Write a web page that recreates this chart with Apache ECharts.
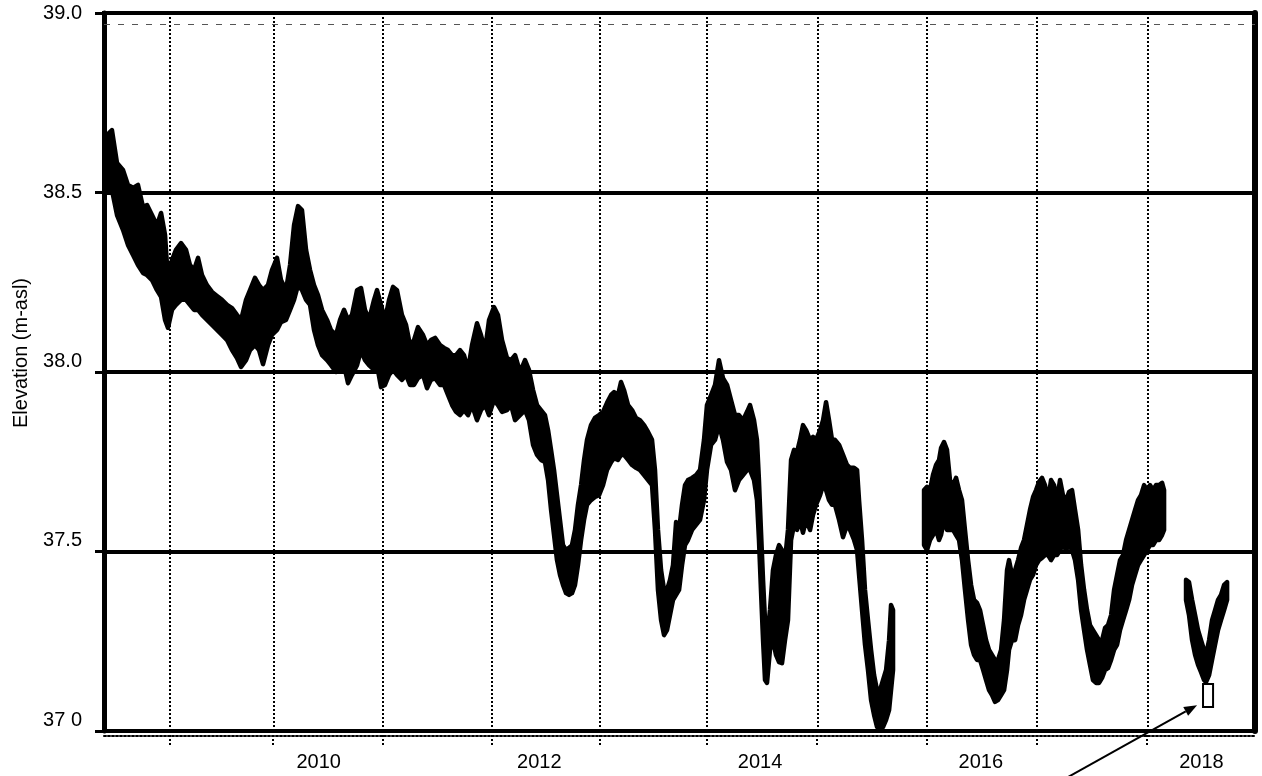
<!DOCTYPE html>
<html>
<head>
<meta charset="utf-8">
<script src="https://cdn.jsdelivr.net/npm/echarts@6/dist/echarts.min.js"></script>
<style>html,body{margin:0;padding:0;background:#fff}#c{width:1262px;height:776px}</style>
</head>
<body>
<div id="c"></div>
<script>
// Water level record: rows are [decimal year, upper envelope (m-asl), lower envelope (m-asl)]
const record2008to2015 = [
[2008.073,38.632,38.521],[2008.082,38.660,38.507],[2008.127,38.674,38.507],[2008.173,38.582,38.437],
[2008.227,38.563,38.396],[2008.272,38.521,38.354],[2008.318,38.513,38.326],[2008.363,38.521,38.298],
[2008.408,38.460,38.276],[2008.445,38.465,38.270],[2008.490,38.437,38.256],[2008.535,38.409,38.228],
[2008.572,38.443,38.209],[2008.608,38.382,38.145],[2008.635,38.256,38.123],[2008.671,38.312,38.173],
[2008.707,38.340,38.187],[2008.753,38.359,38.201],[2008.798,38.340,38.201],[2008.834,38.298,38.187],
[2008.871,38.284,38.173],[2008.907,38.318,38.173],[2008.943,38.270,38.159],[2008.988,38.242,38.145],
[2009.034,38.223,38.131],[2009.079,38.212,38.117],[2009.124,38.201,38.103],[2009.170,38.187,38.089],
[2009.215,38.178,38.061],[2009.260,38.159,38.039],[2009.297,38.145,38.014],[2009.342,38.201,38.033],
[2009.378,38.228,38.061],[2009.423,38.262,38.075],[2009.460,38.242,38.061],[2009.496,38.228,38.022],
[2009.541,38.242,38.075],[2009.577,38.284,38.103],[2009.623,38.318,38.117],[2009.659,38.256,38.139],
[2009.704,38.228,38.145],[2009.741,38.298,38.173],[2009.777,38.409,38.201],[2009.813,38.462,38.242],
[2009.849,38.451,38.228],[2009.886,38.340,38.201],[2009.922,38.284,38.187],[2009.958,38.242,38.117],
[2009.994,38.214,38.075],[2010.031,38.173,38.047],[2010.076,38.145,38.033],[2010.112,38.117,38.019],
[2010.157,38.103,38.000],[2010.194,38.145,38.006],[2010.230,38.173,38.019],[2010.266,38.145,37.969],
[2010.302,38.159,37.992],[2010.348,38.228,38.019],[2010.384,38.234,38.061],[2010.420,38.173,38.033],
[2010.456,38.145,38.019],[2010.502,38.201,38.006],[2010.529,38.228,38.019],[2010.565,38.187,37.958],
[2010.601,38.145,37.964],[2010.638,38.201,37.992],[2010.674,38.237,38.006],[2010.710,38.228,37.992],
[2010.755,38.159,37.978],[2010.792,38.131,37.992],[2010.828,38.075,37.964],[2010.864,38.089,37.964],
[2010.900,38.125,37.983],[2010.946,38.103,37.992],[2010.982,38.075,37.955],[2011.018,38.089,37.978],
[2011.055,38.095,37.983],[2011.100,38.075,37.964],[2011.136,38.067,37.964],[2011.172,38.061,37.936],
[2011.209,38.047,37.908],[2011.245,38.047,37.889],[2011.281,38.061,37.880],[2011.317,38.047,37.894],
[2011.354,38.006,37.880],[2011.390,38.075,37.908],[2011.435,38.136,37.866],[2011.471,38.103,37.894],
[2011.508,38.061,37.908],[2011.544,38.145,37.880],[2011.589,38.181,37.922],[2011.625,38.159,37.908],
[2011.662,38.089,37.889],[2011.707,38.039,37.894],[2011.743,38.033,37.908],[2011.780,38.047,37.866],
[2011.825,38.000,37.880],[2011.870,38.033,37.894],[2011.906,38.006,37.866],[2011.943,37.950,37.797],
[2011.979,37.908,37.769],[2012.015,37.894,37.755],[2012.051,37.880,37.749],[2012.079,37.838,37.699],
[2012.106,37.783,37.616],[2012.133,37.727,37.546],[2012.160,37.657,37.476],[2012.187,37.588,37.435],
[2012.214,37.518,37.407],[2012.242,37.504,37.384],[2012.269,37.510,37.379],[2012.296,37.518,37.384],
[2012.323,37.560,37.407],[2012.350,37.630,37.462],[2012.378,37.685,37.532],[2012.405,37.755,37.588],
[2012.432,37.811,37.630],[2012.468,37.852,37.643],[2012.504,37.872,37.652],[2012.541,37.880,37.657],
[2012.577,37.889,37.685],[2012.613,37.914,37.727],[2012.650,37.936,37.749],[2012.677,37.944,37.760],
[2012.713,37.936,37.755],[2012.740,37.972,37.769],[2012.767,37.950,37.769],[2012.804,37.908,37.755],
[2012.840,37.894,37.741],[2012.876,37.872,37.733],[2012.912,37.866,37.727],[2012.949,37.852,37.713],
[2012.985,37.833,37.699],[2013.021,37.811,37.685],[2013.048,37.727,37.560],[2013.075,37.560,37.393],
[2013.103,37.448,37.309],[2013.130,37.393,37.267],[2013.157,37.393,37.281],[2013.184,37.421,37.323],
[2013.211,37.462,37.365],[2013.239,37.582,37.379],[2013.266,37.560,37.393],[2013.293,37.630,37.462],
[2013.320,37.685,37.518],[2013.347,37.699,37.532],[2013.384,37.705,37.560],[2013.420,37.713,37.574],
[2013.456,37.727,37.588],[2013.492,37.811,37.643],[2013.519,37.908,37.727],[2013.556,37.936,37.797],
[2013.592,37.964,37.811],[2013.628,38.033,37.852],[2013.664,37.983,37.811],[2013.701,37.964,37.749],
[2013.737,37.922,37.727],[2013.773,37.880,37.671],[2013.809,37.880,37.699],[2013.846,37.866,37.713],
[2013.882,37.889,37.727],[2013.909,37.908,37.727],[2013.945,37.866,37.699],[2013.972,37.811,37.643],
[2013.990,37.699,37.532],[2014.008,37.560,37.393],[2014.027,37.421,37.253],[2014.045,37.309,37.142],
[2014.063,37.253,37.134],[2014.090,37.337,37.226],[2014.117,37.448,37.253],[2014.144,37.490,37.212],
[2014.172,37.518,37.192],[2014.199,37.504,37.189],[2014.226,37.476,37.253],[2014.253,37.560,37.309],
[2014.281,37.755,37.532],[2014.308,37.783,37.574],[2014.335,37.777,37.560],[2014.362,37.811,37.588],
[2014.389,37.852,37.552],[2014.417,37.838,37.588],[2014.453,37.811,37.560],[2014.480,37.819,37.602],
[2014.507,37.811,37.630],[2014.544,37.838,37.657],[2014.571,37.866,37.685],[2014.598,37.916,37.671],
[2014.625,37.866,37.643],[2014.652,37.811,37.630],[2014.679,37.811,37.630],[2014.716,37.797,37.588],
[2014.752,37.769,37.540],[2014.788,37.741,37.574],[2014.815,37.733,37.560],[2014.852,37.733,37.532],
[2014.879,37.727,37.504],[2014.897,37.643,37.435],[2014.924,37.532,37.337],[2014.951,37.393,37.240],
[2014.978,37.309,37.170],[2015.006,37.226,37.086],[2015.033,37.156,37.045],[2015.060,37.114,37.011],
[2015.087,37.114,37.008],[2015.114,37.142,37.011],[2015.142,37.170,37.031],[2015.169,37.253,37.058],
[2015.187,37.351,37.114],[2015.205,37.337,37.170]
];
const record2015to2017 = [
[2015.486,37.671,37.518],[2015.513,37.680,37.504],[2015.540,37.671,37.532],[2015.567,37.713,37.546],
[2015.595,37.741,37.560],[2015.622,37.755,37.532],[2015.640,37.788,37.546],[2015.667,37.805,37.588],
[2015.694,37.783,37.560],[2015.721,37.699,37.560],[2015.749,37.685,37.560],[2015.776,37.705,37.546],
[2015.803,37.671,37.532],[2015.830,37.643,37.476],[2015.857,37.560,37.393],[2015.885,37.476,37.309],
[2015.912,37.407,37.240],[2015.939,37.365,37.212],[2015.966,37.357,37.198],[2015.993,37.337,37.198],
[2016.021,37.295,37.170],[2016.048,37.253,37.142],[2016.075,37.226,37.114],[2016.102,37.212,37.100],
[2016.129,37.198,37.081],[2016.156,37.198,37.086],[2016.184,37.226,37.100],[2016.211,37.309,37.114],
[2016.238,37.448,37.170],[2016.256,37.476,37.226],[2016.283,37.435,37.253],[2016.311,37.448,37.253],
[2016.338,37.476,37.295],[2016.365,37.510,37.323],[2016.392,37.532,37.365],[2016.419,37.574,37.393],
[2016.446,37.616,37.421],[2016.474,37.652,37.435],[2016.501,37.671,37.462],[2016.528,37.694,37.476],
[2016.555,37.705,37.482],[2016.582,37.685,37.490],[2016.610,37.643,37.490],[2016.637,37.699,37.476],
[2016.664,37.685,37.490],[2016.691,37.643,37.490],[2016.718,37.699,37.504],[2016.745,37.657,37.518],
[2016.773,37.643,37.504],[2016.800,37.666,37.518],[2016.827,37.671,37.504],[2016.854,37.616,37.476],
[2016.882,37.560,37.421],[2016.909,37.462,37.337],[2016.936,37.393,37.281],[2016.963,37.337,37.226],
[2016.990,37.295,37.184],[2017.017,37.281,37.142],[2017.045,37.267,37.134],[2017.072,37.253,37.134],
[2017.099,37.253,37.148],[2017.126,37.287,37.170],[2017.153,37.295,37.175],[2017.181,37.323,37.198],
[2017.208,37.393,37.226],[2017.235,37.435,37.240],[2017.262,37.476,37.281],[2017.289,37.490,37.309],
[2017.317,37.532,37.337],[2017.344,37.560,37.365],[2017.371,37.588,37.407],[2017.398,37.616,37.435],
[2017.425,37.643,37.462],[2017.452,37.657,37.476],[2017.480,37.685,37.490],[2017.507,37.671,37.504],
[2017.534,37.685,37.518],[2017.561,37.671,37.518],[2017.588,37.685,37.532],[2017.616,37.685,37.532],
[2017.643,37.691,37.546],[2017.661,37.671,37.560]
];
const record2018 = [
[2017.860,37.421,37.365],[2017.887,37.415,37.323],[2017.915,37.365,37.253],[2017.942,37.323,37.212],
[2017.969,37.281,37.184],[2017.996,37.253,37.164],[2018.023,37.226,37.142],[2018.041,37.212,37.136],
[2018.069,37.253,37.156],[2018.096,37.309,37.198],[2018.123,37.337,37.240],[2018.150,37.365,37.281],
[2018.177,37.379,37.309],[2018.205,37.407,37.337],[2018.232,37.415,37.365]
];

const xLabelYears = [2010, 2012, 2014, 2016, 2018];
const gridYears = [2008.653, 2009.587, 2010.583, 2011.571, 2012.550, 2013.519, 2014.516, 2015.513, 2016.510, 2017.507];
const yTicks = [37.0, 37.5, 38.0, 38.5, 39.0];
const markedBox = [[2018.014, 37.131], [2018.105, 37.067]];
const arrowFrom = [2016.582, 36.836];
const arrowTo = [2017.960, 37.072];

const segments = [record2008to2015, record2015to2017, record2018];
const xMin = 2008.055, xMax = 2018.485;
const FONT = '"Liberation Sans", Arial, sans-serif';

const chart = echarts.init(document.getElementById('c'), null, {renderer: 'canvas'});
chart.setOption({
  animation: false,
  backgroundColor: '#fff',
  grid: {left: 104, right: 7, top: 13, bottom: 45, show: true, borderColor: '#000', borderWidth: 4,
         backgroundColor: 'transparent', containLabel: false, outerBoundsMode: 'none'},
  xAxis: [{
    type: 'value', min: xMin, max: xMax, position: 'bottom',
    axisLine: {lineStyle: {color: '#000', width: 4}},
    axisTick: {show: true, customValues: gridYears, length: 15, lineStyle: {color: '#000', width: 2, type: [2, 2]}},
    axisLabel: {customValues: xLabelYears, formatter: v => String(Math.round(v)), fontSize: 20, color: '#000', fontFamily: FONT, margin: 21},
    splitLine: {show: false}
  }, {
    type: 'value', min: xMin, max: xMax, position: 'bottom', offset: 5,
    axisLine: {lineStyle: {color: '#000', width: 2, type: [2, 2]}},
    axisTick: {show: false}, axisLabel: {show: false}, splitLine: {show: false}
  }],
  yAxis: [{
    type: 'value', min: yTicks[0], max: yTicks[yTicks.length - 1], interval: 0.5,
    name: 'Elevation (m-asl)', nameLocation: 'middle', nameGap: 73, nameRotate: 90,
    nameTextStyle: {fontSize: 20, color: '#000', fontFamily: FONT, padding: [0, 0, 0, 38]},
    axisLine: {show: true, lineStyle: {color: '#000', width: 5}},
    axisTick: {show: true, length: 9, lineStyle: {color: '#000', width: 3}},
    axisLabel: {
      formatter: v => {
        const t = v === 37 ? '37 0' : v.toFixed(1);
        return v < 38.25 ? t + '\n ' : t;
      },
      fontSize: 20, lineHeight: 22, color: '#000', fontFamily: FONT, margin: 22
    },
    splitLine: {show: true, lineStyle: {color: '#000', width: 4}}
  }, {
    type: 'value', min: 37, max: 39, position: 'right',
    axisLine: {show: true, lineStyle: {color: '#000', width: 6}},
    axisTick: {show: false}, axisLabel: {show: false}, splitLine: {show: false}
  }],
  series: [{
    type: 'line', name: 'grid', data: [], z: 1, silent: true,
    markLine: {
      silent: true, symbol: ['none', 'none'], label: {show: false}, animation: false,
      lineStyle: {color: '#000', width: 2, type: [2, 2]},
      data: gridYears.map(v => ({xAxis: v})).concat([{yAxis: 38.965, lineStyle: {color: '#555', width: 1, type: [6, 8]}}])
    }
  }, {
    type: 'custom', name: 'Elevation', z: 3, silent: true,
    data: segments.map((s, k) => [s[0][0], s[0][1], s[0][2], k]),
    encode: {x: 0, y: [1, 2]},
    renderItem: (params, api) => {
      const seg = segments[params.dataIndex];
      const top = seg.map(p => api.coord([p[0], p[1]]));
      const bot = seg.slice().reverse().map(p => api.coord([p[0], p[2]]));
      return {type: 'polygon', shape: {points: top.concat(bot)}, style: {fill: '#000', stroke: '#000', lineWidth: 4.5, lineJoin: 'round'}};
    }
  }, {
    type: 'line', name: 'box', data: [], z: 5, silent: true,
    markArea: {
      silent: true, itemStyle: {color: '#fff', borderColor: '#000', borderWidth: 2},
      data: [[{coord: markedBox[0]}, {coord: markedBox[1]}]]
    }
  }]
});

const p1 = chart.convertToPixel({xAxisIndex: 0, yAxisIndex: 0}, arrowFrom);
const p2 = chart.convertToPixel({xAxisIndex: 0, yAxisIndex: 0}, arrowTo);
const dx = p2[0] - p1[0], dy = p2[1] - p1[1];
const L = Math.hypot(dx, dy), ux = dx / L, uy = dy / L;
const head = 13, hw = 5;
const base = [p2[0] - ux * head, p2[1] - uy * head];
chart.setOption({
  graphic: [
    {type: 'line', z: 10, shape: {x1: p1[0], y1: p1[1], x2: base[0], y2: base[1]}, style: {stroke: '#000', lineWidth: 2}},
    {type: 'polygon', z: 10, shape: {points: [p2, [base[0] - uy * hw, base[1] + ux * hw], [base[0] + uy * hw, base[1] - ux * hw]]}, style: {fill: '#000'}}
  ]
});
</script>
</body>
</html>
